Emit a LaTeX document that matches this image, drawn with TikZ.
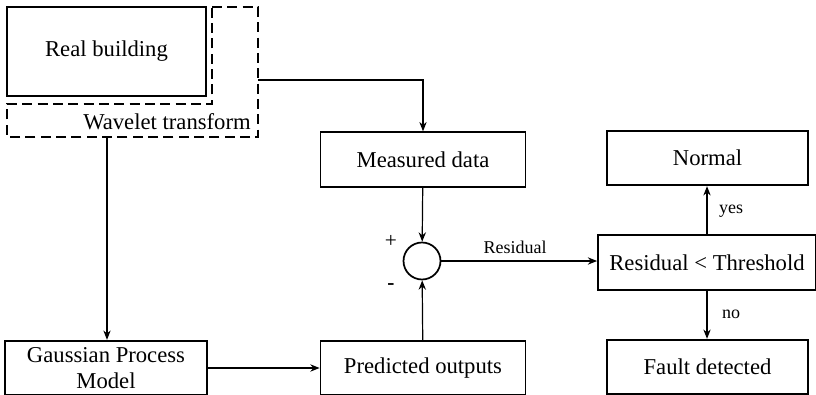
\documentclass[tikz,border=0pt]{standalone}
\usepackage{fontspec}
\setmainfont{Liberation Serif}
\usetikzlibrary{arrows.meta}
\begin{document}
\begin{tikzpicture}[x=0.75pt,y=-0.75pt,
   every node/.style={font=\fontsize{17}{19}\selectfont,align=center,inner sep=0pt},
   box/.style={draw,line width=1.3pt,minimum width=153.75pt,minimum height=41pt},
   lbl/.style={font=\fontsize{13.5}{15}\selectfont},
   arr/.style={-{Stealth[length=7pt,width=5.5pt]},line width=0.9pt}]
  \useasboundingbox (0,0) rectangle (816,395);
  \node[box,minimum width=149.25pt,minimum height=66.75pt] (real) at (106.5,51.5) {Real building};
  \draw[line width=1.7pt,dash pattern=on 7.5pt off 4pt] (212,7) -- (258,7) -- (258,137) -- (7,137) -- (7,104) -- (212,104) -- cycle;
  \coordinate (wtout) at (258,80);
  \coordinate (wtbot) at (107,137);
  \node (wt) at (167,122) {Wavelet transform};
  \node[box] (meas) at (423,159.5) {Measured data};
  \node[draw,circle,line width=1.3pt,minimum size=27.75pt] (sum) at (422,261) {};
  \node[box] (pred) at (423,368) {Predicted outputs};
  \node[box,minimum width=151.5pt] (gp) at (106,368) {Gaussian Process\\Model};
  \node[box,minimum width=163.5pt] (res) at (707,262.5) {Residual < Threshold};
  \node[box,minimum width=150.75pt] (normal) at (707.5,158) {Normal};
  \node[box,minimum width=150.75pt] (fault) at (707.5,367) {Fault detected};
  \node[font=\fontsize{16}{18}\selectfont] (plus) at (391,241) {+};
  \node[font=\bfseries\fontsize{16}{18}\selectfont] (minus) at (391,287) {-};
  \node[lbl] (reslbl) at (515,247) {Residual};
  \node[lbl] (yes) at (731,211) {yes};
  \node[lbl] (no) at (731,314) {no};
  \draw[arr] (wtout) -| (meas.north);
  \draw[arr] (wtbot) -- (wtbot |- gp.north);
  \draw[arr] (meas) -- (sum);
  \draw[arr] (pred) -- (sum);
  \draw[arr] (gp) -- (pred);
  \draw[arr] (sum.east) -- (sum.east -| res.west);
  \draw[arr] (res.north) -- (res.north |- normal.south);
  \draw[arr] (res.south) -- (res.south |- fault.north);
 \end{tikzpicture}
\end{document}
